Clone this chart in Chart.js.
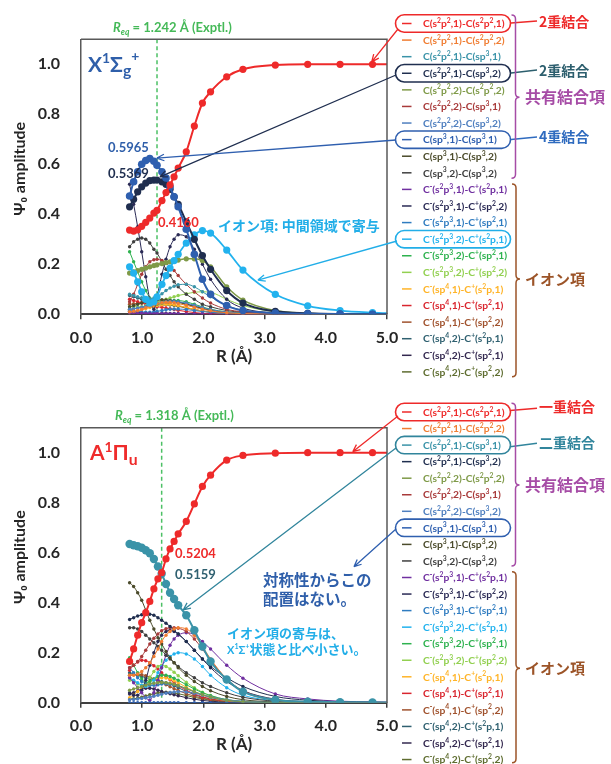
<!DOCTYPE html>
<html><head><meta charset="utf-8">
<script src="https://cdn.jsdelivr.net/npm/chart.js@4.4.1/dist/chart.umd.min.js"></script>
<style>
html,body{margin:0;padding:0;background:#fff;}
body{width:611px;height:764px;position:relative;overflow:hidden;}
.panel{position:absolute;left:0;width:611px;height:382px;}
</style></head><body>
<div class="panel" style="top:0"><canvas id="cX"></canvas></div>
<div class="panel" style="top:382px"><canvas id="cA"></canvas></div>
<script>
// ---------- data ----------
const R_X = [0.794, 0.860, 0.926, 0.992, 1.058, 1.124, 1.191, 1.242, 1.323, 1.389, 1.455, 1.521, 1.588, 1.720, 1.852, 1.984, 2.117, 2.381, 2.646, 3.175, 3.704, 4.233, 4.763, 5.292];
const R_A = [0.794, 0.860, 0.926, 0.992, 1.058, 1.124, 1.191, 1.257, 1.318, 1.389, 1.455, 1.521, 1.588, 1.720, 1.852, 1.984, 2.117, 2.381, 2.646, 3.175, 3.704, 4.233, 4.763, 5.292];
const REQ_X = 1.242;
const REQ_A = 1.318;
const X_TICKS = [0, 1, 2, 3, 4, 5];

const LABELS = ['C(s²p²,1)-C(s²p²,1)', 'C(s²p²,1)-C(s²p²,2)', 'C(s²p²,1)-C(sp³,1)', 'C(s²p²,1)-C(sp³,2)',
  'C(s²p²,2)-C(s²p²,2)', 'C(s²p²,2)-C(sp³,1)', 'C(s²p²,2)-C(sp³,2)', 'C(sp³,1)-C(sp³,1)', 'C(sp³,1)-C(sp³,2)',
  'C(sp³,2)-C(sp³,2)', 'C⁻(s²p³,1)-C⁺(s²p,1)', 'C⁻(s²p³,1)-C⁺(sp²,2)', 'C⁻(s²p³,1)-C⁺(sp²,1)',
  'C⁻(s²p³,2)-C⁺(s²p,1)', 'C⁻(s²p³,2)-C⁺(sp²,1)', 'C⁻(s²p³,2)-C⁺(sp²,2)', 'C⁻(sp⁴,1)-C⁺(s²p,1)',
  'C⁻(sp⁴,1)-C⁺(sp²,1)', 'C⁻(sp⁴,1)-C⁺(sp²,2)', 'C⁻(sp⁴,2)-C⁺(s²p,1)', 'C⁻(sp⁴,2)-C⁺(sp²,1)', 'C⁻(sp⁴,2)-C⁺(sp²,2)'];
const COLORS = ['#ee2a2a', '#f07d32', '#3a93a8', '#1f2e4f', '#7f9a48', '#a83a3a', '#4f7fbf', '#2e5faf', '#4b4b2b',
  '#3f3f3f', '#7030a0', '#2a2a55', '#2f7cc0', '#22b2ee', '#2eb24f', '#92d050', '#ffb428', '#d9252e', '#a0522d',
  '#2f6070', '#33284f', '#5f6d30'];

// X1Σg+ state
const X01 = [0.337, 0.333, 0.338, 0.352, 0.368, 0.385, 0.405, 0.416, 0.455, 0.487, 0.518, 0.550, 0.585, 0.650, 0.753, 0.845, 0.890, 0.950, 0.980, 0.997, 1.000, 1.000, 1.000, 1.000];
const X02 = [0.010, 0.012, 0.015, 0.020, 0.026, 0.032, 0.038, 0.042, 0.046, 0.048, 0.048, 0.046, 0.043, 0.036, 0.028, 0.020, 0.014, 0.006, 0.003, 0.001, 0, 0, 0, 0];
const X03 = [0.080, 0.075, 0.070, 0.066, 0.063, 0.062, 0.065, 0.070, 0.082, 0.095, 0.105, 0.112, 0.118, 0.120, 0.110, 0.090, 0.070, 0.035, 0.017, 0.004, 0.001, 0, 0, 0];
const X04 = [0.430, 0.460, 0.490, 0.510, 0.525, 0.535, 0.537, 0.5369, 0.530, 0.520, 0.500, 0.470, 0.440, 0.370, 0.300, 0.235, 0.180, 0.095, 0.045, 0.012, 0.004, 0.001, 0, 0];
const X05 = [0.165, 0.170, 0.175, 0.180, 0.185, 0.190, 0.195, 0.198, 0.203, 0.207, 0.210, 0.213, 0.217, 0.222, 0.222, 0.215, 0.190, 0.110, 0.057, 0.015, 0.004, 0.001, 0, 0];
const X06 = [0.050, 0.080, 0.120, 0.160, 0.190, 0.210, 0.218, 0.220, 0.215, 0.205, 0.190, 0.175, 0.155, 0.120, 0.090, 0.065, 0.045, 0.020, 0.010, 0.003, 0.001, 0, 0, 0];
const X07 = [0.020, 0.022, 0.025, 0.028, 0.032, 0.036, 0.040, 0.043, 0.047, 0.050, 0.052, 0.052, 0.050, 0.045, 0.036, 0.027, 0.019, 0.009, 0.004, 0.001, 0, 0, 0, 0];
const X08 = [0.473, 0.530, 0.570, 0.600, 0.615, 0.623, 0.612, 0.5965, 0.570, 0.545, 0.510, 0.470, 0.430, 0.340, 0.240, 0.140, 0.080, 0.035, 0.015, 0.005, 0.002, 0.001, 0, 0];
const X09 = [0.030, 0.035, 0.040, 0.045, 0.050, 0.054, 0.057, 0.058, 0.058, 0.057, 0.055, 0.052, 0.048, 0.040, 0.031, 0.023, 0.016, 0.007, 0.003, 0.001, 0, 0, 0, 0];
const X10 = [0.270, 0.290, 0.300, 0.305, 0.300, 0.285, 0.260, 0.245, 0.210, 0.180, 0.155, 0.130, 0.110, 0.080, 0.060, 0.040, 0.030, 0.015, 0.008, 0.002, 0.001, 0, 0, 0];
const X11 = [0.005, 0.005, 0.004, 0.004, 0.003, 0.003, 0.002, 0.002, 0.002, 0.002, 0.002, 0.002, 0.002, 0.001, 0.001, 0.001, 0.001, 0, 0, 0, 0, 0, 0, 0];
const X12 = [0.520, 0.440, 0.350, 0.250, 0.150, 0.060, 0.020, 0.070, 0.160, 0.220, 0.270, 0.300, 0.318, 0.310, 0.260, 0.200, 0.140, 0.060, 0.025, 0.005, 0.001, 0, 0, 0];
const X13 = [0.015, 0.013, 0.011, 0.009, 0.008, 0.008, 0.010, 0.012, 0.015, 0.018, 0.020, 0.021, 0.021, 0.019, 0.015, 0.011, 0.008, 0.003, 0.001, 0, 0, 0, 0, 0];
const X14 = [0.190, 0.165, 0.130, 0.090, 0.060, 0.045, 0.050, 0.070, 0.120, 0.155, 0.185, 0.215, 0.240, 0.285, 0.318, 0.335, 0.325, 0.257, 0.177, 0.080, 0.034, 0.015, 0.007, 0.003];
const X15 = [0.250, 0.210, 0.170, 0.130, 0.095, 0.065, 0.045, 0.040, 0.045, 0.050, 0.055, 0.055, 0.055, 0.050, 0.040, 0.030, 0.020, 0.010, 0.005, 0.001, 0, 0, 0, 0];
const X16 = [0.030, 0.030, 0.030, 0.030, 0.035, 0.040, 0.045, 0.050, 0.055, 0.060, 0.065, 0.070, 0.075, 0.082, 0.088, 0.090, 0.088, 0.060, 0.035, 0.010, 0.003, 0.001, 0, 0];
const X17 = [0.005, 0.008, 0.012, 0.017, 0.022, 0.027, 0.032, 0.035, 0.038, 0.040, 0.040, 0.038, 0.035, 0.028, 0.020, 0.013, 0.008, 0.003, 0.001, 0, 0, 0, 0, 0];
const X18 = [0.060, 0.055, 0.050, 0.045, 0.040, 0.036, 0.032, 0.030, 0.028, 0.025, 0.022, 0.019, 0.016, 0.011, 0.007, 0.004, 0.002, 0.001, 0, 0, 0, 0, 0, 0];
const X19 = [0.040, 0.042, 0.044, 0.046, 0.048, 0.050, 0.050, 0.050, 0.048, 0.045, 0.042, 0.038, 0.034, 0.026, 0.019, 0.013, 0.008, 0.003, 0.001, 0, 0, 0, 0, 0];
const X20 = [0.075, 0.070, 0.065, 0.060, 0.056, 0.054, 0.053, 0.053, 0.054, 0.055, 0.055, 0.053, 0.050, 0.042, 0.033, 0.024, 0.016, 0.007, 0.003, 0.001, 0, 0, 0, 0];
const X21 = [0.012, 0.010, 0.008, 0.006, 0.005, 0.004, 0.004, 0.004, 0.004, 0.004, 0.003, 0.003, 0.003, 0.002, 0.002, 0.001, 0.001, 0, 0, 0, 0, 0, 0, 0];
const X22 = [0.020, 0.022, 0.025, 0.028, 0.031, 0.034, 0.036, 0.037, 0.038, 0.038, 0.037, 0.035, 0.032, 0.026, 0.019, 0.013, 0.009, 0.004, 0.002, 0, 0, 0, 0, 0];

// A1Πu state
const A01 = [0.165, 0.215, 0.270, 0.320, 0.360, 0.405, 0.455, 0.495, 0.5204, 0.575, 0.615, 0.645, 0.675, 0.725, 0.795, 0.865, 0.910, 0.970, 0.989, 0.998, 1.000, 1.000, 1.000, 1.000];
const A02 = [0.110, 0.110, 0.115, 0.125, 0.140, 0.160, 0.185, 0.215, 0.245, 0.270, 0.285, 0.295, 0.300, 0.295, 0.270, 0.225, 0.175, 0.095, 0.045, 0.010, 0.003, 0.001, 0, 0];
const A03 = [0.635, 0.630, 0.626, 0.620, 0.610, 0.598, 0.575, 0.545, 0.5159, 0.475, 0.440, 0.415, 0.390, 0.350, 0.290, 0.225, 0.165, 0.093, 0.044, 0.011, 0.004, 0.002, 0.001, 0];
const A04 = [0.333, 0.340, 0.347, 0.352, 0.355, 0.354, 0.350, 0.340, 0.330, 0.318, 0.305, 0.290, 0.275, 0.245, 0.210, 0.175, 0.145, 0.100, 0.065, 0.025, 0.010, 0.004, 0.002, 0.001];
const A05 = [0.050, 0.055, 0.060, 0.065, 0.070, 0.075, 0.078, 0.080, 0.081, 0.080, 0.078, 0.074, 0.069, 0.057, 0.044, 0.033, 0.023, 0.010, 0.004, 0.001, 0, 0, 0, 0];
const A06 = [0.140, 0.150, 0.165, 0.185, 0.210, 0.235, 0.258, 0.275, 0.288, 0.296, 0.300, 0.300, 0.298, 0.285, 0.255, 0.215, 0.170, 0.095, 0.048, 0.012, 0.003, 0.001, 0, 0];
const A07 = [0.012, 0.013, 0.015, 0.017, 0.020, 0.023, 0.026, 0.030, 0.034, 0.038, 0.041, 0.043, 0.044, 0.043, 0.038, 0.031, 0.024, 0.012, 0.006, 0.001, 0, 0, 0, 0];
const A08 = [0, 0, 0, 0, 0, 0, 0, 0, 0, 0, 0, 0, 0, 0, 0, 0, 0, 0, 0, 0, 0, 0, 0, 0];
const A09 = [0.480, 0.465, 0.440, 0.410, 0.370, 0.330, 0.295, 0.260, 0.235, 0.205, 0.180, 0.160, 0.140, 0.110, 0.085, 0.065, 0.048, 0.025, 0.012, 0.003, 0.001, 0, 0, 0];
const A10 = [0.300, 0.300, 0.295, 0.285, 0.270, 0.255, 0.240, 0.225, 0.210, 0.190, 0.175, 0.160, 0.145, 0.120, 0.100, 0.080, 0.065, 0.040, 0.022, 0.006, 0.002, 0.001, 0, 0];
const A11 = [0.100, 0.080, 0.060, 0.040, 0.020, 0.010, 0.040, 0.090, 0.140, 0.190, 0.230, 0.255, 0.270, 0.280, 0.272, 0.245, 0.215, 0.150, 0.098, 0.035, 0.015, 0.006, 0.003, 0.001];
const A12 = [0.040, 0.030, 0.030, 0.050, 0.090, 0.150, 0.200, 0.245, 0.270, 0.285, 0.290, 0.285, 0.275, 0.245, 0.210, 0.175, 0.140, 0.085, 0.048, 0.014, 0.004, 0.001, 0, 0];
const A13 = [0.140, 0.120, 0.100, 0.085, 0.075, 0.070, 0.070, 0.072, 0.075, 0.076, 0.075, 0.072, 0.068, 0.056, 0.043, 0.031, 0.021, 0.009, 0.004, 0.001, 0, 0, 0, 0];
const A14 = [0.100, 0.090, 0.080, 0.070, 0.065, 0.070, 0.090, 0.120, 0.145, 0.170, 0.185, 0.195, 0.200, 0.195, 0.175, 0.145, 0.110, 0.060, 0.030, 0.008, 0.002, 0.001, 0, 0];
const A15 = [0.180, 0.150, 0.120, 0.095, 0.080, 0.085, 0.095, 0.105, 0.110, 0.110, 0.105, 0.098, 0.090, 0.072, 0.055, 0.040, 0.028, 0.012, 0.005, 0.001, 0, 0, 0, 0];
const A16 = [0.090, 0.085, 0.075, 0.070, 0.080, 0.100, 0.125, 0.145, 0.150, 0.145, 0.135, 0.122, 0.108, 0.082, 0.060, 0.042, 0.029, 0.012, 0.005, 0.001, 0, 0, 0, 0];
const A17 = [0.020, 0.030, 0.045, 0.060, 0.072, 0.083, 0.092, 0.098, 0.100, 0.099, 0.095, 0.088, 0.080, 0.062, 0.045, 0.031, 0.020, 0.008, 0.003, 0.001, 0, 0, 0, 0];
const A18 = [0.130, 0.150, 0.163, 0.170, 0.168, 0.160, 0.148, 0.135, 0.120, 0.105, 0.092, 0.080, 0.068, 0.050, 0.035, 0.024, 0.016, 0.007, 0.003, 0.001, 0, 0, 0, 0];
const A19 = [0.110, 0.112, 0.113, 0.112, 0.108, 0.102, 0.095, 0.088, 0.080, 0.072, 0.064, 0.056, 0.049, 0.036, 0.026, 0.018, 0.012, 0.005, 0.002, 0, 0, 0, 0, 0];
const A20 = [0.120, 0.115, 0.110, 0.105, 0.100, 0.096, 0.092, 0.088, 0.084, 0.080, 0.075, 0.068, 0.060, 0.045, 0.032, 0.022, 0.015, 0.006, 0.002, 0, 0, 0, 0, 0];
const A21 = [0.035, 0.040, 0.048, 0.055, 0.058, 0.058, 0.055, 0.050, 0.045, 0.040, 0.036, 0.032, 0.028, 0.020, 0.014, 0.009, 0.006, 0.002, 0.001, 0, 0, 0, 0, 0];
const A22 = [0.015, 0.016, 0.018, 0.022, 0.027, 0.032, 0.036, 0.039, 0.041, 0.042, 0.041, 0.039, 0.036, 0.029, 0.021, 0.015, 0.010, 0.004, 0.002, 0, 0, 0, 0, 0];

const X_SERIES = [X01, X02, X03, X04, X05, X06, X07, X08, X09, X10, X11, X12, X13, X14, X15, X16, X17, X18, X19, X20, X21, X22];
const A_SERIES = [A01, A02, A03, A04, A05, A06, A07, A08, A09, A10, A11, A12, A13, A14, A15, A16, A17, A18, A19, A20, A21, A22];

// ---------- drawing helpers ----------
const FONT = 'Lato, "Liberation Sans", sans-serif';
const JP = '"Noto Sans CJK JP", sans-serif';
const SUPMAP = {'¹':'1','²':'2','³':'3','⁴':'4','⁺':'+','⁻':'-'};
const RED = '#ee2a2a', NAVY = '#1f2e4f', BLUE = '#2f5faf', LBLUE = '#22aee8', TEAL = '#31859c',
      GREEN = '#45b958', PURP = '#a64ca6', BROWN = '#9c5428', DTEAL = '#2d5f6e';

function supRuns(str) {
  const out = [];
  for (const ch of str) {
    const sup = ch in SUPMAP;
    const c = sup ? SUPMAP[ch] : ch;
    const last = out[out.length - 1];
    if (last && !!last.sup === sup) last.t += c; else out.push({t: c, sup});
  }
  return out;
}
function rich(ctx, parts, x, yBase, size, color, family) {
  let cx = x;
  ctx.textAlign = 'left';
  ctx.textBaseline = 'alphabetic';
  for (const p of parts) {
    const sc = p.scale || ((p.sup || p.sub) ? 0.66 : 1);
    const s = size * sc;
    const fam = p.jp ? JP : family;
    ctx.font = (p.it ? 'italic ' : '') + 'bold ' + s + 'px ' + fam;
    const dy = p.dy !== undefined ? p.dy * size : (p.sup ? -0.4 * size : p.sub ? 0.24 * size : 0);
    ctx.fillStyle = p.color || color;
    ctx.fillText(p.t, cx, yBase + dy);
    cx += ctx.measureText(p.t).width;
  }
  return cx - x;
}
function rrect(ctx, x, y, w, h) {
  const r = h / 2;
  ctx.beginPath();
  ctx.moveTo(x + r, y); ctx.lineTo(x + w - r, y);
  ctx.arc(x + w - r, y + r, r, -Math.PI / 2, Math.PI / 2);
  ctx.lineTo(x + r, y + h);
  ctx.arc(x + r, y + r, r, Math.PI / 2, Math.PI * 1.5);
  ctx.closePath();
}
function arrow(ctx, x1, y1, x2, y2, color, w) {
  ctx.strokeStyle = color; ctx.lineWidth = w; ctx.setLineDash([]);
  ctx.beginPath(); ctx.moveTo(x1, y1); ctx.lineTo(x2, y2);
  const ang = Math.atan2(y2 - y1, x2 - x1), L = 8, t = 0.42;
  ctx.moveTo(x2, y2); ctx.lineTo(x2 - L * Math.cos(ang - t), y2 - L * Math.sin(ang - t));
  ctx.moveTo(x2, y2); ctx.lineTo(x2 - L * Math.cos(ang + t), y2 - L * Math.sin(ang + t));
  ctx.stroke();
}
function brace(ctx, x, yTop, yMid, yBot, color) {
  const d = 4;
  ctx.strokeStyle = color; ctx.lineWidth = 1.5; ctx.setLineDash([]);
  ctx.beginPath();
  ctx.moveTo(x, yTop); ctx.quadraticCurveTo(x + d, yTop, x + d, yTop + d);
  ctx.lineTo(x + d, yMid - d); ctx.quadraticCurveTo(x + d, yMid, x + 2 * d, yMid);
  ctx.quadraticCurveTo(x + d, yMid, x + d, yMid + d);
  ctx.lineTo(x + d, yBot - d); ctx.quadraticCurveTo(x + d, yBot, x, yBot);
  ctx.stroke();
}

function panelPlugin(cfg) {
  return {
    id: 'deco',
    beforeDatasetsDraw(chart) {
      const {ctx, chartArea: a, scales: {x}} = chart;
      const px = x.getPixelForValue(cfg.req);
      ctx.save();
      ctx.strokeStyle = '#4cc065'; ctx.lineWidth = 1.5; ctx.setLineDash([4, 3]);
      ctx.beginPath(); ctx.moveTo(px, a.top); ctx.lineTo(px, a.bottom); ctx.stroke();
      ctx.restore();
    },
    afterDraw(chart) {
      const {ctx, chartArea: a, scales: {x, y}} = chart;
      ctx.save();
      ctx.strokeStyle = '#595959'; ctx.lineWidth = 1.5;
      ctx.beginPath(); ctx.moveTo(a.left, a.top); ctx.lineTo(a.right, a.top); ctx.lineTo(a.right, a.bottom); ctx.stroke();
      for (const t of cfg.texts) {
        const parts = t.parts || [{t: t.text, jp: t.jp}];
        const k = t.jp ? 0.37 : 0.36;
        rich(ctx, parts, t.x, t.yc + k * t.size, t.size, t.color, FONT);
      }
      LABELS.forEach((lab, i) => {
        const yc = cfg.legTop + i * cfg.legStep;
        ctx.strokeStyle = COLORS[i]; ctx.lineWidth = 1.5;
        ctx.beginPath(); ctx.moveTo(402, yc); ctx.lineTo(411.5, yc); ctx.stroke();
        rich(ctx, supRuns(lab), 423, yc + 3.7, 10.3, COLORS[i], FONT);
      });
      for (const o of cfg.ovals) {
        const yc = cfg.legTop + o.i * cfg.legStep;
        ctx.strokeStyle = o.color; ctx.lineWidth = 1.6;
        rrect(ctx, 395.5, yc - 8.7, 115, 17.4); ctx.stroke();
      }
      for (const b of cfg.bonds) {
        ctx.strokeStyle = b.color; ctx.lineWidth = 1.6;
        ctx.beginPath(); ctx.moveTo(b.from[0], b.from[1]); ctx.lineTo(b.to[0], b.to[1]); ctx.stroke();
        rich(ctx, [{t: b.text, jp: 1}], 539, b.yc + 0.37 * 14, 14, b.color, JP);
      }
      for (const r of cfg.arrows) {
        arrow(ctx, r.from[0], r.from[1], x.getPixelForValue(r.tip[0]), y.getPixelForValue(r.tip[1]), r.color, 1.3);
      }
      for (const b of cfg.braces) {
        brace(ctx, b.x, b.top, b.mid, b.bot, b.color);
        rich(ctx, [{t: b.text, jp: 1}], 525, b.mid + 0.37 * b.size, b.size, b.color, JP);
      }
      ctx.restore();
    }
  };
}

function makeChart(id, R, series, cfg) {
  const datasets = series.map((vals, i) => {
    const st = cfg.styles[i] || {r: 1.7, w: 1, o: 10};
    return {
      label: LABELS[i],
      data: vals.map((v, k) => ({x: R[k], y: v})),
      borderColor: COLORS[i], backgroundColor: COLORS[i],
      borderWidth: st.w, pointRadius: st.r, pointHoverRadius: st.r, pointBorderWidth: 0,
      cubicInterpolationMode: 'monotone', order: st.o
    };
  });
  const tickFont = {family: FONT, size: 16, weight: 'bold'};
  return new Chart(document.getElementById(id), {
    type: 'line',
    data: {datasets},
    options: {
      responsive: true, maintainAspectRatio: false, animation: false, devicePixelRatio: 1, events: [],
      layout: {padding: {left: 0, right: 224, top: cfg.padTop, bottom: 0}},
      plugins: {legend: {display: false}, tooltip: {enabled: false}},
      scales: {
        x: {
          type: 'linear', min: 0, max: 5,
          afterFit: s => { s.height = cfg.xAxisH; },
          afterBuildTicks: s => { s.ticks = X_TICKS.map(v => ({value: v})); },
          ticks: {callback: v => v.toFixed(1), color: '#262626', font: tickFont, padding: 9, maxRotation: 0, autoSkip: false},
          grid: {drawOnChartArea: false, drawTicks: true, tickLength: 5, color: '#404040', lineWidth: 1.5},
          border: {display: true, color: '#404040', width: 2},
          title: {display: true, text: 'R (Å)', color: '#262626', font: {family: FONT, size: 17, weight: 'bold'}, padding: {top: 0, bottom: cfg.xTitlePad}}
        },
        y: {
          min: 0, max: 1.1,
          afterFit: s => { s.width = 81; },
          ticks: {stepSize: 0.2, includeBounds: false, callback: v => v > 1.05 ? '' : v.toFixed(1), color: '#262626', font: tickFont, padding: 21},
          grid: {drawOnChartArea: false, drawTicks: false},
          border: {display: true, color: '#595959', width: 1.5},
          title: {display: true, text: '\u2002\u2002Ψ₀ amplitude', color: '#262626', font: {family: FONT, size: 16, weight: 'bold'}, padding: {top: 10, bottom: 0}}
        }
      }
    },
    plugins: [panelPlugin(cfg)]
  });
}

const fmt = v => v.toFixed(4);
const reqParts = r => [{t: 'R', it: 1}, {t: 'eq', sub: 1, it: 1}, {t: ' = ' + r.toFixed(3) + ' Å (Exptl.)'}];

makeChart('cX', R_X, X_SERIES, {
  req: REQ_X, padTop: 39.3, xAxisH: 67.7, xTitlePad: 15,
  styles: {0: {r: 3.6, w: 2, o: 0}, 7: {r: 3.8, w: 2, o: 1}, 3: {r: 3.6, w: 2, o: 2}, 13: {r: 3.6, w: 1.8, o: 3}, 4: {r: 2.6, w: 1.5, o: 5}},
  legTop: 23.5, legStep: 16.59,
  ovals: [{i: 0, color: RED}, {i: 3, color: NAVY}, {i: 7, color: BLUE}, {i: 13, color: LBLUE}],
  bonds: [
    {text: '2重結合', color: RED, yc: 22, from: [511, 23], to: [537, 21]},
    {text: '2重結合', color: DTEAL, yc: 71, from: [511, 73], to: [537, 70]},
    {text: '4重結合', color: '#2f6bbf', yc: 137, from: [511, 139.5], to: [537, 137]}
  ],
  arrows: [
    {from: [398, 29], tip: [4.75, 1.01], color: RED},
    {from: [396, 75], tip: [1.29, 0.55], color: NAVY},
    {from: [396, 140], tip: [1.24, 0.625], color: BLUE},
    {from: [397, 241], tip: [2.89, 0.137], color: LBLUE}
  ],
  braces: [
    {x: 511.5, top: 15, mid: 97.3, bot: 178.3, color: PURP, text: '共有結合項', size: 16},
    {x: 512, top: 184, mid: 279, bot: 376.7, color: BROWN, text: 'イオン項', size: 15}
  ],
  texts: [
    {parts: reqParts(REQ_X), x: 113, yc: 27, size: 13, color: GREEN},
    {parts: [{t: 'X'}, {t: '1', sup: 1}, {t: 'Σ'}, {t: 'g', sub: 1, scale: 0.75, dy: 0.2}, {t: '+', sup: 1, dy: -0.5}], x: 88, yc: 64, size: 21, color: '#2f5faa'},
    {text: fmt(X08[7]), x: 108, yc: 147, size: 13, color: '#2f5faa'},
    {text: fmt(X04[7]), x: 108, yc: 173.5, size: 13, color: NAVY},
    {text: fmt(X01[7]), x: 158, yc: 222, size: 13, color: RED},
    {text: 'イオン項: 中間領域で寄与', jp: 1, x: 218, yc: 226, size: 14, color: LBLUE}
  ]
});

makeChart('cA', R_A, A_SERIES, {
  req: REQ_A, padTop: 45.7, xAxisH: 61.3, xTitlePad: 9,
  styles: {0: {r: 3.6, w: 2, o: 0}, 2: {r: 4.2, w: 2, o: 1}},
  legTop: 30, legStep: 16.55,
  ovals: [{i: 0, color: RED}, {i: 2, color: TEAL}, {i: 7, color: BLUE}],
  bonds: [
    {text: '一重結合', color: RED, yc: 24.7, from: [510, 28.5], to: [537, 26.3]},
    {text: '二重結合', color: TEAL, yc: 60.7, from: [510, 64.7], to: [537, 61.3]}
  ],
  arrows: [
    {from: [398, 34], tip: [4.44, 1.004], color: RED},
    {from: [396, 66], tip: [1.67, 0.371], color: TEAL},
    {from: [396, 147], tip: [4.46, 0.544], color: BLUE}
  ],
  braces: [
    {x: 511.5, top: 21.3, mid: 103, bot: 184, color: PURP, text: '共有結合項', size: 16},
    {x: 512, top: 189.7, mid: 286.3, bot: 380.7, color: BROWN, text: 'イオン項', size: 15}
  ],
  texts: [
    {parts: reqParts(REQ_A), x: 115, yc: 33, size: 13, color: GREEN},
    {parts: [{t: 'A'}, {t: '1', sup: 1}, {t: 'Π'}, {t: 'u', sub: 1, scale: 0.75, dy: 0.25}], x: 90, yc: 70.5, size: 21, color: '#ef2b2b'},
    {text: fmt(A01[8]), x: 175, yc: 171.3, size: 13, color: RED},
    {text: fmt(A03[8]), x: 175, yc: 192.3, size: 13, color: '#2f6070'},
    {text: '対称性からこの', jp: 1, x: 263, yc: 198, size: 15.5, color: '#2f5faa'},
    {text: '配置はない。', jp: 1, x: 263, yc: 217.3, size: 15.5, color: '#2f5faa'},
    {text: 'イオン項の寄与は、', jp: 1, x: 227, yc: 251.3, size: 13, color: LBLUE},
    {parts: [{t: 'X', scale: 0.85}, {t: '1', sup: 1, scale: 0.55}, {t: 'Σ', scale: 0.85}, {t: '+', sup: 1, scale: 0.55}, {t: '状態と比べ小さい。', jp: 1}], x: 227, yc: 267.3, size: 13, color: LBLUE}
  ]
});
</script>
</body></html>
